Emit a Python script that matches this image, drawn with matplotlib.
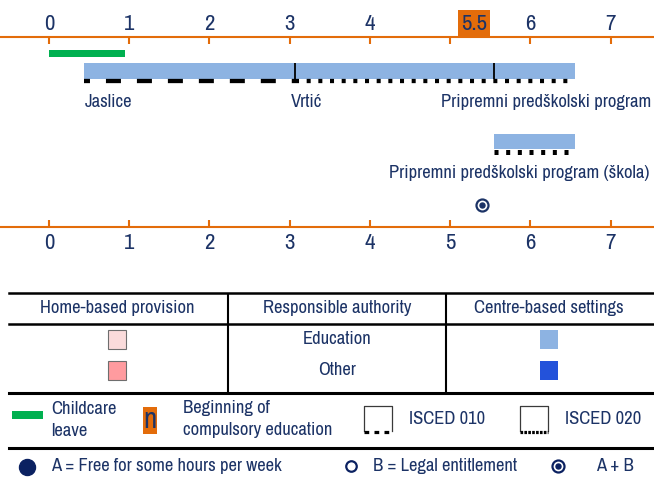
import matplotlib
matplotlib.use("Agg")
import matplotlib.pyplot as plt
from matplotlib.patches import Rectangle

plt.rcParams['font.family'] = ['Archivo Narrow', 'DejaVu Sans']
plt.rcParams['lines.scale_dashes'] = False

# data
ages = [0, 1, 2, 3, 4, 5, 6, 7]
leave_start, leave_end = 0, 0.945
compulsory_age = 5.5

prog_names = ["Jaslice", "Vrtić", "Pripremni predškolski program"]
prog_start = [0.44, 3.07, 5.54]
prog_end = [3.07, 5.54, 6.555]

isced_start = [0.44, 3.07]
isced_end = [3.07, 6.555]
isced_level = ["010", "020"]

school_name = "Pripremni predškolski program (škola)"
school_start, school_end = 5.54, 6.555
school_isced = "020"

entitlement_age = 5.40   # A + B

# colours
navy = '#1C3366'
orange = '#E36C0A'
green = '#00B050'
light_blue = '#8DB3E2'
dark_blue = '#2352DA'
pink_light = '#FADBDB'
pink = '#FF9B9F'

px = 100 / 72  # pixels per point
ISCED_STYLE = {"010": (6.5, (10.8, 11.5)), "020": (0, (2.9, 5.5))}

fig = plt.figure(figsize=(6.54, 4.79), dpi=100)

# timeline axes: x in years, y in pixel rows
ax = fig.add_axes([0, 0, 1, 1])
ax.set_xlim(-49 / 80.24, (654 - 49) / 80.24)
ax.set_ylim(479, 0)
ax.axis('off')

# compulsory education label box (drawn under the axis line)
ax.barh(23.3, 0.395, left=compulsory_age - 0.4, height=26.7, color=orange)
ax.text(compulsory_age - 0.2, 23.5, str(compulsory_age), ha='center', va='center',
        fontsize=16.5, color=navy)

# axes top and bottom
for y_line, y_tick, y_lab in [(36.7, 44, 23.5), (226.7, 219.5, 242.5)]:
    ax.axhline(y_line, color=orange, lw=1.5)
    ax.vlines(ages, y_line, y_tick, color=orange, lw=1.5)
    for a in ages:
        if y_lab < 30 and a == 5:
            continue
        ax.text(a, y_lab, str(a), ha='center', va='center', fontsize=16.5, color=navy)

# childcare leave
ax.barh(53.6, leave_end - leave_start, left=leave_start, height=7.3, color=green)

# programmes
for s, e in zip(prog_start, prog_end):
    ax.barh(71, e - s, left=s, height=16, color=light_blue)
ax.vlines(prog_start[1:], 63.3, 79, color='black', lw=1.3)
for s, e, lev in zip(isced_start, isced_end, isced_level):
    ax.plot([s, e], [81.3, 81.3], color='black', lw=4.3 / px, ls=ISCED_STYLE[lev])

ax.text(prog_start[0], 101.5, prog_names[0], ha='left', va='center', fontsize=13.4, color=navy)
ax.text(prog_start[1] - 0.05, 101.5, prog_names[1], ha='left', va='center', fontsize=13.4, color=navy)
ax.text(7.5, 101.5, prog_names[2], ha='right', va='center', fontsize=13.4, color=navy)

# school programme
ax.barh(141.3, school_end - school_start, left=school_start, height=14.6, color=light_blue)
ax.plot([school_start, school_end], [151.5, 151.5], color='black', lw=5 / px, ls=ISCED_STYLE[school_isced])
ax.text(7.48, 173, school_name, ha='right', va='center', fontsize=13.4, color=navy)

# entitlement marker
ax.plot(entitlement_age, 205, 'o', ms=12 / px, mfc='white', mec=navy, mew=1.6)
ax.plot(entitlement_age, 205, 'o', ms=5 / px, color=navy)

# table and legend, pixel coordinates
lg = fig.add_axes([0, 0, 1, 1])
lg.set_xlim(0, 654)
lg.set_ylim(479, 0)
lg.axis('off')
lg.patch.set_alpha(0)

fs = 13.4
lg.plot([9, 654], [293, 293], color='black', lw=1.8)
lg.plot([9, 654], [324, 324], color='black', lw=1.8)
lg.vlines([228, 446], 293, 392, color='black', lw=1.5)
lg.text(117, 308, "Home-based provision", ha='center', va='center', fontsize=fs, color=navy)
lg.text(337, 308, "Responsible authority", ha='center', va='center', fontsize=fs, color=navy)
lg.text(549, 308, "Centre-based settings", ha='center', va='center', fontsize=fs, color=navy)

for y, name, hcol, ccol in [(339.5, "Education", pink_light, light_blue),
                            (370, "Other", pink, dark_blue)]:
    lg.text(337, y, name, ha='center', va='center', fontsize=fs, color=navy)
    lg.add_patch(Rectangle((108, y - 9.5), 18, 19, facecolor=hcol, edgecolor='#6E6E6E', lw=0.8))
    lg.add_patch(Rectangle((540, y - 9.5), 18, 19, facecolor=ccol, edgecolor='none'))

lg.plot([9, 654], [392.7, 392.7], color='black', lw=2.2)
lg.plot([9, 654], [448.3, 448.3], color='black', lw=2.2)

# legend row 1
lg.add_patch(Rectangle((12.3, 411), 30.4, 7.7, facecolor=green, edgecolor='none'))
lg.text(51, 408.5, "Childcare", ha='left', va='center', fontsize=fs, color=navy)
lg.text(51, 430.5, "leave", ha='left', va='center', fontsize=fs, color=navy)

lg.add_patch(Rectangle((143.3, 406.7), 13.4, 27.6, facecolor=orange, edgecolor='none'))
lg.text(150, 419, "n", ha='center', va='center', fontsize=21, color=navy)
lg.text(182.7, 408.5, "Beginning of", ha='left', va='center', fontsize=fs, color=navy)
lg.text(182.7, 430.5, "compulsory education", ha='left', va='center', fontsize=fs, color=navy)

for x0, lev in [(364.3, "010"), (520, "020")]:
    lg.plot([x0, x0, x0 + 27.5, x0 + 27.5], [431, 405.5, 405.5, 431], color='#3A3A3A', lw=0.9)
    lg.plot([x0, x0 + 27.5], [431.5, 431.5], color='black', lw=3.2 / px,
            ls=(0, (3.4, 3.8)) if lev == "010" else (0, (1.9, 0.9)))
    lg.text(x0 + 45, 418.5, "ISCED " + lev, ha='left', va='center', fontsize=fs, color=navy)

# legend row 2
lg.plot(27.3, 467, 'o', ms=16 / px, color='#0B2161')
lg.text(51, 466, "A = Free for some hours per week", ha='left', va='center', fontsize=fs, color=navy)
lg.plot(351, 466, 'o', ms=10.5 / px, mfc='white', mec='#0B2161', mew=1.6)
lg.text(372.7, 466, "B = Legal entitlement", ha='left', va='center', fontsize=fs, color=navy)
lg.plot(558.3, 466, 'o', ms=12 / px, mfc='white', mec='#0B2161', mew=1.6)
lg.plot(558.3, 466, 'o', ms=5 / px, color='#0B2161')
lg.text(596, 466, "A + B", ha='left', va='center', fontsize=fs, color=navy)

plt.savefig("out.png", dpi=100)
plt.close()
